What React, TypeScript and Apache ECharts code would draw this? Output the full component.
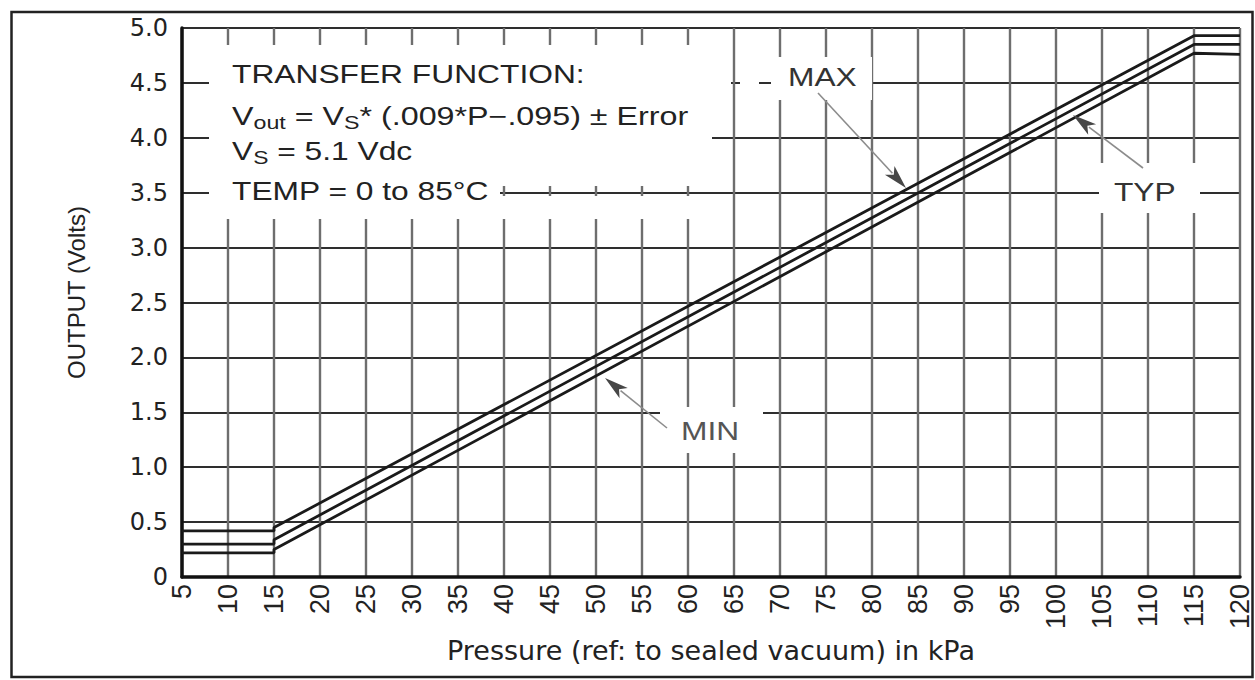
import React, { useEffect, useRef } from "react";
import * as echarts from "echarts";

// ---- data ----
const pressureKPa = [5, 15, 15, 115, 120];
const outputMax = [0.42, 0.42, 0.45, 4.93, 4.93];
const outputTyp = [0.3, 0.3, 0.34, 4.85, 4.85];
const outputMin = [0.22, 0.22, 0.25, 4.77, 4.76];
const seriesNames = ["MAX", "TYP", "MIN"];

const xMin = 5;
const xMax = 120;
const xStep = 5;
const yMin = 0;
const yMax = 5;
const yStep = 0.5;

const xTitle = "Pressure (ref: to sealed vacuum) in kPa";
const yTitle = "OUTPUT (Volts)";
const noteLine1 = "TRANSFER FUNCTION:";
const noteLine2 = "{n|V}{s|out}{n| = V}{s|S}{n|* (.009*P\u2212.095) \u00b1 Error}";
const noteLine3 = "{n|V}{s|S}{n| = 5.1 Vdc}";
const noteLine4 = "TEMP = 0 to 85\u00b0C";

const INK = "#222222";
const SANS = "'Liberation Sans', Arial, sans-serif";

function arrow(x1: number, y1: number, x2: number, y2: number) {
  const dx = x2 - x1;
  const dy = y2 - y1;
  const L = Math.hypot(dx, dy);
  const ux = dx / L;
  const uy = dy / L;
  const headLen = 24;
  const headW = 6.5;
  const bx = x2 - ux * headLen;
  const by = y2 - uy * headLen;
  const px = -uy;
  const py = ux;
  return [
    {
      type: "line",
      z: 60,
      shape: { x1, y1, x2: bx + ux * 4, y2: by + uy * 4 },
      style: { stroke: "#8c8c8c", lineWidth: 1.6 },
    },
    {
      type: "polygon",
      z: 61,
      shape: {
        points: [
          [x2, y2],
          [bx + px * headW, by + py * headW],
          [bx + ux * 6, by + uy * 6],
          [bx - px * headW, by - py * headW],
        ],
      },
      style: { fill: "#474747" },
    },
  ];
}

function whiteRect(x: number, y: number, w: number, h: number) {
  return { type: "rect", z: 50, shape: { x, y, width: w, height: h }, style: { fill: "#ffffff" } };
}

function label(text: string, x: number, y: number, fill: string) {
  return {
    type: "text",
    z: 62,
    x,
    y,
    scaleX: 1.22,
    style: {
      text,
      fill,
      fontSize: 26,
      fontFamily: SANS,
      verticalAlign: "middle",
      align: "left",
    },
  };
}

export default function App() {
  const ref = useRef<HTMLDivElement>(null);

  useEffect(() => {
    if (!ref.current) return;
    const chart = echarts.init(ref.current, undefined, { renderer: "svg" });

    const mk = (vals: number[]) => pressureKPa.map((p, i) => [p, vals[i]]);
    const lineStyle = { color: "#1a1a1a", width: 2.8 };

    const richNote = {
      n: { fontSize: 25, fontFamily: SANS, fill: INK, lineHeight: 30 },
      s: { fontSize: 18, fontFamily: SANS, fill: INK, lineHeight: 14, verticalAlign: "bottom" },
    };

    const option: any = {
      animation: false,
      backgroundColor: "#ffffff",
      grid: { left: 182, right: 15, top: 28, bottom: 103, containLabel: false },
      xAxis: {
        type: "value",
        min: xMin,
        max: xMax,
        interval: xStep,
        name: xTitle,
        nameLocation: "middle",
        nameGap: 60,
        nameTextStyle: { fontSize: 27, fontFamily: "'DejaVu Sans', sans-serif", color: INK },
        axisLine: { show: true, onZero: false, lineStyle: { color: "#111", width: 3.5 } },
        axisTick: { show: false },
        axisLabel: {
          rotate: 90,
          margin: 7,
          fontSize: 27,
          fontFamily: "'Liberation Sans Narrow', 'Arial Narrow', 'Liberation Sans', sans-serif",
          color: INK,
          showMinLabel: true,
          showMaxLabel: true,
        },
        splitLine: { show: true, lineStyle: { color: "#6e6e6e", width: 2.4 } },
      },
      yAxis: {
        type: "value",
        min: yMin,
        max: yMax,
        interval: yStep,
        name: yTitle,
        nameLocation: "middle",
        nameGap: 94,
        nameRotate: 90,
        nameTextStyle: { fontSize: 24, fontFamily: SANS, color: INK, padding: [0, 0, 0, 20] },
        axisLine: { show: true, lineStyle: { color: "#111", width: 3.5 } },
        axisTick: { show: false },
        axisLabel: {
          margin: 14,
          fontSize: 24,
          fontFamily: "'DejaVu Sans', sans-serif",
          color: INK,
          formatter: (v: number) => (v === 0 ? "0" : v.toFixed(1)),
        },
        splitLine: { show: true, lineStyle: { color: "#2e2e2e", width: 2 } },
      },
      series: [
        { name: seriesNames[0], type: "line", data: mk(outputMax), symbol: "none", lineStyle, z: 3 },
        { name: seriesNames[1], type: "line", data: mk(outputTyp), symbol: "none", lineStyle, z: 3 },
        { name: seriesNames[2], type: "line", data: mk(outputMin), symbol: "none", lineStyle, z: 3 },
      ],
      graphic: {
        elements: [
          // white backgrounds behind annotations (they interrupt the grid like in the print)
          whiteRect(209, 45, 503, 141),
          whiteRect(209, 186, 291, 33),
          whiteRect(500, 196, 212, 23),
          whiteRect(712, 77, 19, 12),
          whiteRect(740, 77, 19, 12),
          whiteRect(771, 57, 101, 43),
          whiteRect(1099, 163, 101, 50),
          whiteRect(660, 407, 103, 46),
          // transfer function note
          {
            type: "text",
            z: 62,
            x: 232,
            y: 74.5,
            scaleX: 1.27,
            style: { text: noteLine1, fill: INK, fontSize: 25, fontFamily: SANS, verticalAlign: "middle" },
          },
          {
            type: "text",
            z: 62,
            x: 232,
            y: 116.5,
            scaleX: 1.29,
            style: { text: noteLine2, fill: INK, fontSize: 25, fontFamily: SANS, verticalAlign: "middle", rich: richNote },
          },
          {
            type: "text",
            z: 62,
            x: 232,
            y: 151.5,
            scaleX: 1.27,
            style: { text: noteLine3, fill: INK, fontSize: 25, fontFamily: SANS, verticalAlign: "middle", rich: richNote },
          },
          {
            type: "text",
            z: 62,
            x: 232,
            y: 191.5,
            scaleX: 1.27,
            style: { text: noteLine4, fill: INK, fontSize: 25, fontFamily: SANS, verticalAlign: "middle" },
          },
          // curve labels
          label(seriesNames[0], 788, 77, "#333333"),
          label(seriesNames[1], 1114, 192.5, "#333333"),
          label(seriesNames[2], 681, 431, "#555555"),
          ...arrow(818, 93, 906, 188),
          ...arrow(1143, 168, 1073, 115),
          ...arrow(667, 428, 605, 378),
          // outer frame
          {
            type: "rect",
            z: 63,
            shape: { x: 11.5, y: 12, width: 1241, height: 665 },
            style: { fill: "none", stroke: "#222", lineWidth: 2.5 },
          },
        ],
      },
    };

    chart.setOption(option);
    return () => chart.dispose();
  }, []);

  return (
    <div
      ref={ref}
      style={{ position: "fixed", left: 0, top: 0, width: 1255, height: 680, background: "#fff" }}
    />
  );
}
